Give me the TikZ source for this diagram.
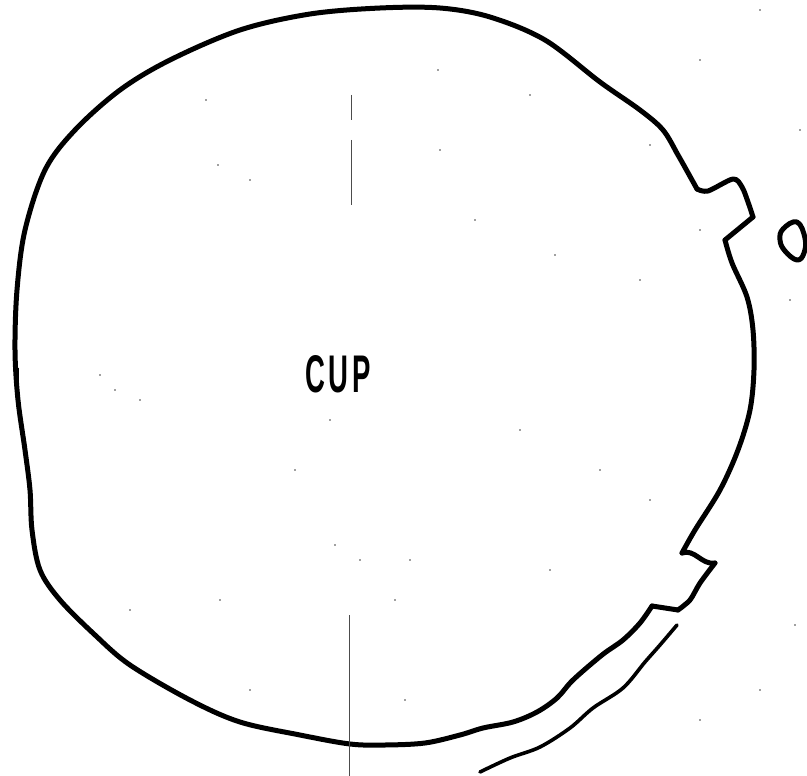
\documentclass[tikz,border=0pt]{standalone}
\usepackage{fontspec}
\setmainfont{Liberation Sans}
\newfontfamily\cupfont[LetterSpace=14]{Liberation Sans}
\tikzset{
  outline/.style={line width=5pt,line cap=round,line join=round,black},
  thinout/.style={line width=3.6pt,line cap=round,line join=round,black},
  hair/.style={line width=0.7pt,black!70},
  speck/.style={fill=black!75,draw=none},
}
\begin{document}
\begin{tikzpicture}[x=1pt,y=-1pt]
\useasboundingbox (0,0) rectangle (807,776);
\fill[white] (0,0) rectangle (807,776);
% cup outline
\draw[outline] plot[smooth,tension=0.55] coordinates {(697,189) (692,180) (678,155) (663,130) (640,110) (600,82) (545,40) (490,17) (440,8) (380,8) (310,14) (240,30) (170,60) (120,90) (75,130) (45,170) (25,230) (17,290) (15,350) (18,400) (25,450) (30,490) (32,530) (40,570) (60,600) (95,635) (130,665) (190,700) (240,722) (300,735) (350,744) (385,745) (425,743) (460,735) (483,728) (513,722) (537,712) (557,698) (573,680) (602,655) (623,640) (640,623) (652,606)};
\draw[outline] plot[smooth,tension=0.5] coordinates {(697,189) (708,191) (733,179) (742,187) (748,202) (753,217)};
\draw[outline] (753,217) -- (725,240);
\draw[outline] plot[smooth,tension=0.55] coordinates {(725,240) (732,263) (747,297) (753,330) (754,370) (750,410) (738,450) (720,490) (695,530) (682,553)};
\draw[outline] (682,553) to[out=20,in=190] (715,563);
\draw[outline] plot[smooth,tension=0.5] coordinates {(715,563) (700,583) (690,600) (678,610)};
\draw[outline] (678,610) -- (652,606);
% second arc
\draw[thinout] plot[smooth,tension=0.55] coordinates {(677,625) (660,645) (645,662) (623,688) (593,708) (570,728) (540,747) (510,758) (480,772)};
% small ring
\draw[outline] plot[smooth cycle,tension=0.7] coordinates {(797,222) (783,229) (780,240) (785,251) (797,260) (804,253) (805,238)};
% faint centre marks
\draw[hair] (349,615) -- (349,776);
\draw[hair] (351,95) -- (351,120);
\draw[hair] (351,140) -- (351,205);
\draw[line width=1pt] (18,368) -- (18,386);
\node[inner sep=0pt,anchor=center] (cup) at (338,374) {\scalebox{0.52}[1]{\fontsize{53}{53}\selectfont\bfseries\cupfont CUP}};
% specks
\foreach \p/\q in {206/100,250/180,218/165,140/400,100/375,295/470,335/545,360/560,395/600,405/700,250/690,115/390,438/70,530/95,555/255,640/280,700/60,760/10,800/130,790/300,650/500,600/470,520/430,550/570,440/150,475/220,700/720,760/690,795/625,330/420,410/560,130/610,220/600,650/145,700/230}
  \fill[speck] (\p,\q) circle (0.9pt);
\end{tikzpicture}
\end{document}
